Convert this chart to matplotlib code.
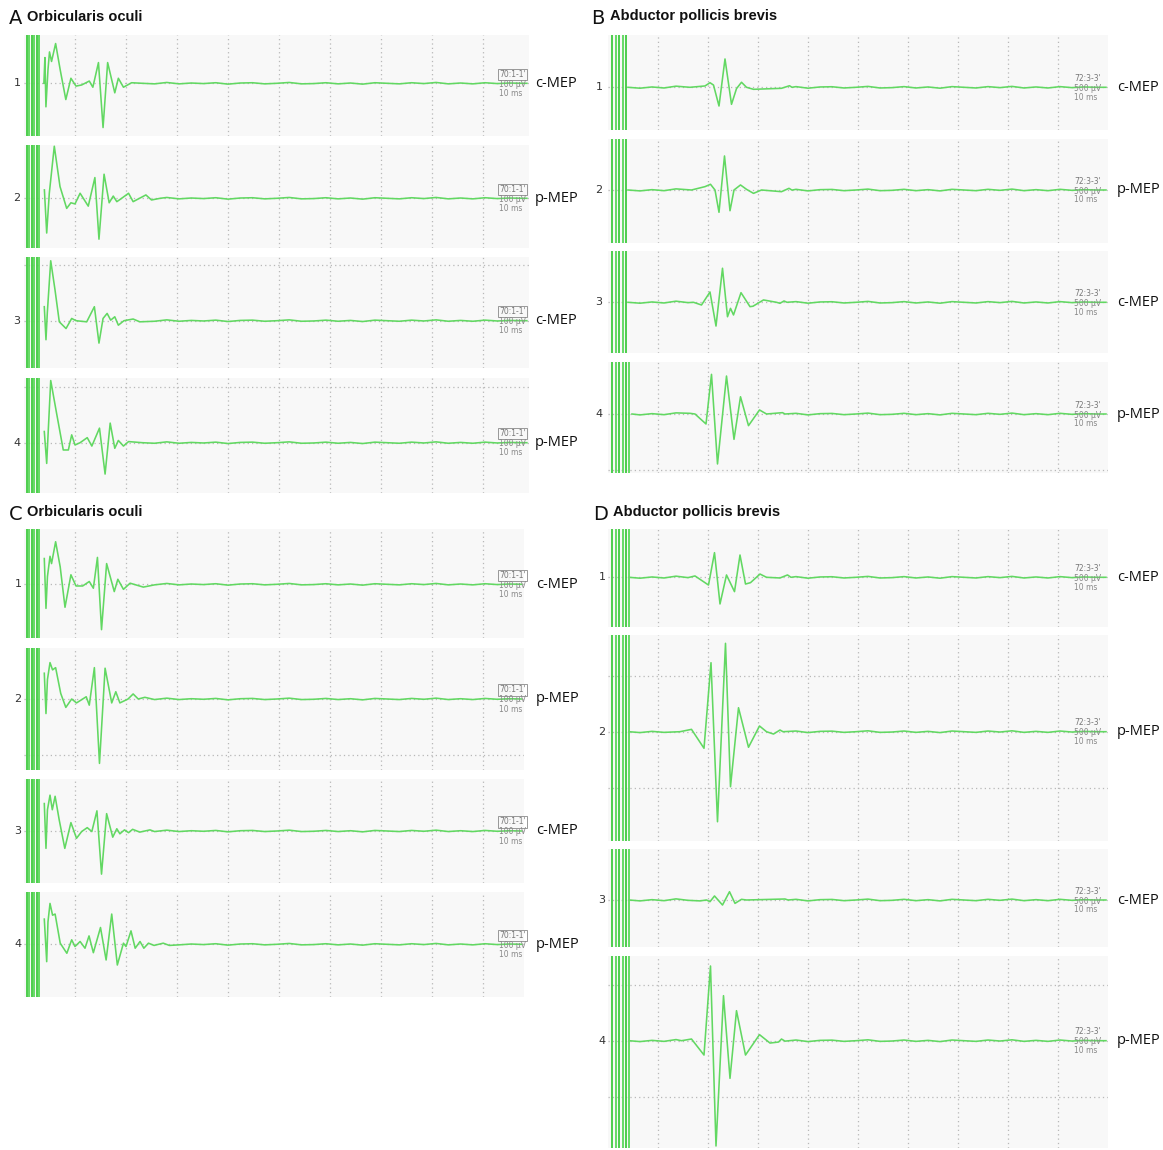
import matplotlib
matplotlib.use("Agg")
import matplotlib.pyplot as plt

# ---------------- data (time in ms, amplitude in µV) ----------------
A1_T = [3.9, 4.1, 4.3, 4.7, 5.0, 5.4, 6.2, 7.1, 8.2, 9.2, 10.2, 11.3, 12.8, 13.5, 14.6, 15.5, 16.4, 17.8, 18.5, 19.5, 21.1]
A1_V = [0, 46, -42, 24, 56, 39, 71, 24, -29, 9, -5, -3, 4, -7, 37, -79, 37, -17, 9, -7, 1]
A2_T = [4.0, 4.45, 4.96, 5.94, 7.06, 8.37, 9.2, 10.0, 11.0, 12.6, 13.9, 14.7, 15.7, 16.7, 17.5, 18.2, 19.0, 20.5, 21.4, 23.9, 25.0, 26.7]
A2_V = [15, -62, 9, 93, 21, -18, -8, -10, 9, -14, 37, -73, 43, -8, 4, -6, -1, 9, -6, 6, -3, 0]
A3_T = [3.98, 4.31, 4.57, 5.24, 6.08, 6.92, 8.24, 9.35, 10.2, 12.3, 13.8, 14.7, 15.5, 16.3, 17.0, 17.8, 18.5, 19.6, 21.4, 22.7]
A3_V = [25, -34, 14, 107, 55, -2, -14, 4, 0, -2, 25, -40, 4, 13, 1, 7, -8, 0, 3, -2]
A4_T = [3.98, 4.45, 4.7, 5.24, 6.4, 7.7, 8.7, 9.35, 10.0, 11.0, 12.4, 13.3, 14.8, 15.9, 16.9, 17.8, 18.5, 19.5, 20.5]
A4_V = [20, -37, 11, 111, 52, -13, -13, 14, -4, 0, 9, -6, 26, -56, 35, -10, 4, -6, 2]

C1_T = [3.98, 4.31, 4.6, 5.1, 5.4, 6.2, 7.1, 8.04, 9.2, 10.2, 11.5, 12.8, 13.6, 14.4, 15.2, 16.2, 17.7, 18.4, 19.5, 20.8, 23.4]
C1_V = [46, -43, 14, 50, 37, 76, 31, -41, 17, -3, -3, 5, -7, 48, -81, 37, -13, 9, -9, 2, -5]
C2_T = [3.98, 4.31, 4.6, 5.1, 5.6, 6.2, 7.2, 8.2, 9.35, 10.3, 12.2, 12.8, 13.8, 14.8, 15.9, 17.2, 18.0, 18.8, 20.4, 21.4, 22.4, 23.7]
C2_V = [46, -26, 35, 65, 52, 56, 10, -15, 0, -7, 4, -11, 56, -115, 55, -7, 13, -7, 0, 9, 0, 3]
C3_T = [3.98, 4.31, 4.6, 5.1, 5.55, 6.1, 6.9, 8.0, 9.2, 10.3, 11.3, 12.4, 13.3, 14.3, 15.2, 16.2, 17.4, 18.2, 18.8, 19.7, 20.5, 21.3, 22.7, 24.7]
C3_V = [49, -31, 38, 64, 38, 62, 20, -31, 15, -13, -1, 6, -1, 36, -77, 31, -11, 4, -5, 2, -3, 3, -2, 2]
C4_T = [3.98, 4.45, 4.7, 5.1, 5.6, 6.1, 7.1, 8.4, 9.35, 10.0, 11.0, 11.96, 12.75, 13.6, 15.0, 16.1, 17.2, 18.3, 19.5, 20.0, 20.98, 21.8, 22.75, 23.5, 24.4, 25.5, 27.3, 28.5]
C4_V = [45, -31, 40, 73, 52, 54, 2, -16, 8, -4, 5, -7, 15, -15, 30, -28, 54, -37, 2, -4, 24, -7, 5, -7, 2, -2, 2, -2]

B1_T = [4.0, 16.4, 19.4, 20.4, 21.1, 22.2, 23.4, 24.7, 25.7, 26.7, 27.7, 29.1, 34.7, 36.3, 36.8]
B1_V = [0, 0, 12, 41, 20, -167, 253, -152, -12, 45, 0, -18, -9, 14, 0]
B2_T = [4.0, 16.7, 19.4, 20.5, 21.4, 22.2, 23.3, 24.4, 25.2, 26.5, 27.7, 29.1, 30.7, 34.7, 36.2, 36.8]
B2_V = [0, 0, 30, 51, 0, -199, 304, -185, 0, 45, 6, -30, 0, -15, 15, -1]
B3_T = [4.0, 17.1, 18.7, 20.4, 21.6, 22.9, 23.9, 24.5, 25.1, 26.6, 28.4, 29.0, 31.1, 33.7, 34.4, 35.2, 35.8]
B3_V = [0, 0, -24, 92, -212, 304, -129, -54, -113, 86, -39, -35, 21, 0, -9, 12, 0]
B4_T = [4.8, 16.4, 17.4, 19.6, 20.7, 21.9, 23.7, 25.2, 26.5, 28.1, 30.3, 31.7, 34.9, 35.4]
B4_V = [0, 6, 0, -89, 354, -446, 339, -226, 154, -104, 36, 0, 12, 0]

D1_T = [4.2, 17.4, 20.1, 21.3, 22.4, 23.7, 25.3, 26.4, 27.5, 28.5, 30.4, 31.7, 34.4, 35.9, 36.6]
D1_V = [0, 12, -69, 220, -238, 21, -128, 199, -60, -48, 29, 0, -6, 21, 0]
D2_T = [4.2, 14.4, 16.7, 19.2, 20.6, 21.9, 23.5, 24.5, 26.1, 28.1, 30.3, 31.7, 33.1, 34.4, 35.0]
D2_V = [0, 0, 21, -148, 616, -804, 789, -491, 214, -139, 51, 0, -21, 15, 0]
D3_T = [4.2, 19.7, 20.4, 21.3, 22.9, 24.3, 25.4, 26.7, 27.7, 35.4, 36.0]
D3_V = [0, 0, -15, 36, -45, 74, -30, 6, 0, 9, 0]
D4_T = [4.2, 14.7, 16.7, 19.2, 20.5, 21.6, 23.1, 24.4, 25.7, 27.5, 30.3, 32.4, 34.1, 34.7, 35.4]
D4_V = [0, 0, 15, -128, 667, -940, 402, -336, 268, -128, 54, -21, -12, 15, -4]

# small baseline ripple
RIPPLE_T = [4.0, 6.4, 8.8, 11.2, 13.6, 16.0, 18.4, 20.8, 23.2, 25.6, 28.0, 30.4, 32.8, 35.2,
            37.6, 40.0, 42.4, 44.8, 47.2, 49.6, 52.0, 54.4, 56.8, 59.2, 61.6, 64.0, 66.4,
            68.8, 71.2, 73.6, 76.0, 78.4, 80.8, 83.2, 85.6, 88.0, 90.4, 92.8, 95.2, 97.6]
RIPPLE_AC = [1, -1.5, 0.5, -1, 2, -0.5, -1.5, 1, 0, -1, 1.5, -1, 0.5, -0.5, 1, -1.5, 0.5, 1, -1, 0,
             1.5, -1, -0.5, 1, -1, 0.5, -1.5, 1, 0, -1, 1, -0.5, 1.5, -1, 0.5, -1, 1, -0.5, 0.5, 0]
RIPPLE_BD = [6, -8, 3, -6, 10, -3, -8, 5, 0, -6, 8, -5, 3, -3, 6, -8, 3, 5, -6, 0,
             8, -6, -3, 6, -6, 3, -8, 6, 0, -6, 6, -3, 8, -6, 3, -6, 6, -3, 3, 0]

# stimulus artefact times (ms)
ART_AC = [0.6, 1.0, 1.5, 2.0, 2.5, 3.0]
ART_BD = [0.7, 1.5, 2.2, 2.9, 3.5]
ART_BD_WIDE = [0.7, 1.5, 2.2, 2.9, 3.5, 4.2]

ROW_NUMBERS = ["1", "2", "3", "4"]
A_LABELS = ["c-MEP", "p-MEP", "c-MEP", "p-MEP"]
B_LABELS = ["c-MEP", "p-MEP", "c-MEP", "p-MEP"]
C_LABELS = ["c-MEP", "p-MEP", "c-MEP", "p-MEP"]
D_LABELS = ["c-MEP", "p-MEP", "c-MEP", "p-MEP"]
SETTINGS_AC = ["70:1-1'", "100 µV", "10 ms"]
SETTINGS_BD = ["72:3-3'", "500 µV", "10 ms"]

# ---------------- figure ----------------
W, H = 1163, 1150
fig = plt.figure(figsize=(W / 100, H / 100), dpi=100)

TRACE = "#62d862"
ART = "#3fca3f"
GRID = "#b8b8b8"


def fx(x):
    return x / W


def fy(y):
    return 1 - y / H


def draw_row(left, ppm, xmax, upp, div, top, base, bottom, T, V, ripple, art,
             num_x, num, label_x, label, settings, boxed):
    width = xmax * ppm
    ax = fig.add_axes([fx(left), fy(bottom), width / W, (bottom - top) / H])
    ax.set_facecolor("#f8f8f8")
    for sp in ax.spines.values():
        sp.set_visible(False)
    ylo = -(bottom - base) * upp
    yhi = (base - top) * upp
    ax.set_xlim(0, xmax)
    ax.set_ylim(ylo, yhi)
    ax.set_xticks([10, 20, 30, 40, 50, 60, 70, 80, 90])
    yt = [k * div for k in range(-3, 4) if ylo < k * div < yhi]
    ax.set_yticks(yt)
    ax.tick_params(length=0, labelleft=False, labelbottom=False)
    ax.grid(True, ls=(0, (1, 2.5)), color=GRID, lw=0.9)
    # artefact
    for k, a in enumerate(art):
        ax.axvline(a, color=ART if k % 2 == 0 else "#5ad85a", lw=1.3)
    # trace
    tt = list(T)
    vv = list(V)
    for t, v in zip(RIPPLE_T, ripple):
        if t > T[0] and (t < T[1] - 0.8 or t > T[-1] + 0.8):
            tt.append(t)
            vv.append(v)
    pairs = sorted(zip(tt, vv))
    tt = [p[0] for p in pairs] + [xmax - 0.4]
    vv = [p[1] for p in pairs] + [0]
    ax.plot(tt, vv, color=TRACE, lw=1.15, solid_joinstyle="round")
    # texts
    fig.text(fx(num_x), fy(base), num, ha="center", va="center",
             fontsize=8, color="#333333", family="DejaVu Sans")
    fig.text(fx(label_x), fy(base), label, ha="left", va="center",
             fontsize=10.5, color="#111111", family="Open Sans")
    sx = left + 93.2 * ppm
    bb = dict(boxstyle="square,pad=0.15", fc="none", ec="#888888", lw=0.6) if boxed else None
    fig.text(fx(sx), fy(base - 9), settings[0], ha="left", va="center",
             fontsize=5.5, color="#777777", bbox=bb)
    fig.text(fx(sx), fy(base + 1), settings[1], ha="left", va="center",
             fontsize=5.5, color="#888888")
    fig.text(fx(sx), fy(base + 10), settings[2], ha="left", va="center",
             fontsize=5.5, color="#888888")
    return ax


UPP_AC = 100 / 56
UPP_BD = 500 / 56

A_ROWS = [(35, 83.3, 136), (145, 198.3, 248), (257, 320.7, 368), (378, 442.7, 493)]
C_ROWS = [(529, 584.3, 638), (648, 699, 770), (779, 831, 883), (892, 944.3, 997)]
B_ROWS = [(35, 87.3, 130), (139, 190, 243), (251, 302.3, 353), (362, 414, 473)]
D_ROWS = [(529, 577.3, 627), (635, 731.7, 841), (849, 900, 947), (956, 1040.7, 1148)]

A_T = [A1_T, A2_T, A3_T, A4_T]
A_V = [A1_V, A2_V, A3_V, A4_V]
C_T = [C1_T, C2_T, C3_T, C4_T]
C_V = [C1_V, C2_V, C3_V, C4_V]
B_T = [B1_T, B2_T, B3_T, B4_T]
B_V = [B1_V, B2_V, B3_V, B4_V]
D_T = [D1_T, D2_T, D3_T, D4_T]
D_V = [D1_V, D2_V, D3_V, D4_V]

for i in range(4):
    top, base, bottom = A_ROWS[i]
    draw_row(24, 5.1, 99, UPP_AC, 100, top, base, bottom, A_T[i], A_V[i], RIPPLE_AC,
             ART_AC, 17, ROW_NUMBERS[i], 535, A_LABELS[i], SETTINGS_AC, True)
    top, base, bottom = C_ROWS[i]
    draw_row(24, 5.1, 98, UPP_AC, 100, top, base, bottom, C_T[i], C_V[i], RIPPLE_AC,
             ART_AC, 18, ROW_NUMBERS[i], 536, C_LABELS[i], SETTINGS_AC, True)
    top, base, bottom = B_ROWS[i]
    draw_row(608, 5.0, 100, UPP_BD, 500, top, base, bottom, B_T[i], B_V[i], RIPPLE_BD,
             ART_BD_WIDE if i == 3 else ART_BD, 599, ROW_NUMBERS[i], 1117, B_LABELS[i],
             SETTINGS_BD, False)
    top, base, bottom = D_ROWS[i]
    draw_row(608, 5.0, 100, UPP_BD, 500, top, base, bottom, D_T[i], D_V[i], RIPPLE_BD,
             ART_BD_WIDE, 602, ROW_NUMBERS[i], 1117, D_LABELS[i], SETTINGS_BD, False)

# panel titles
for letter, lx, tx, y, title in [("A", 9, 27, 17, "Orbicularis oculi"),
                                 ("B", 591, 610, 16, "Abductor pollicis brevis"),
                                 ("C", 9, 27, 512, "Orbicularis oculi"),
                                 ("D", 593, 613, 512, "Abductor pollicis brevis")]:
    fig.text(fx(lx), fy(y + 2), letter, ha="left", va="center", fontsize=14,
             family="DejaVu Sans", color="#111111")
    fig.text(fx(tx), fy(y), title, ha="left", va="center", fontsize=10.5,
             family="Liberation Sans", weight="bold", color="#111111")

fig.savefig("out.png", dpi=100, facecolor="white")
